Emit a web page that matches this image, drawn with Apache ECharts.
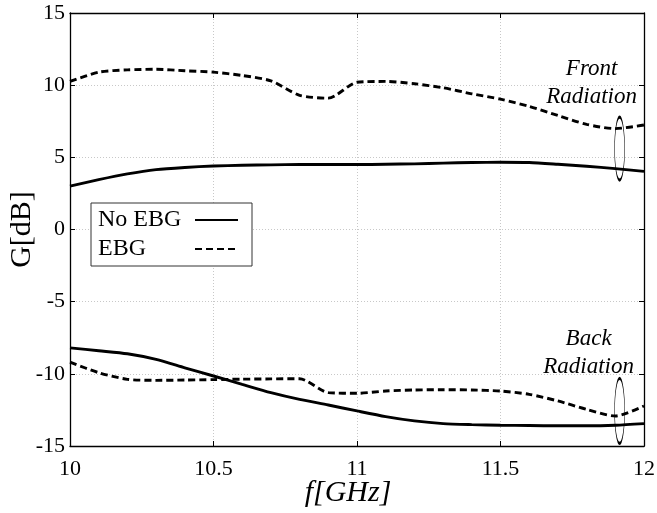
<!DOCTYPE html>
<html>
<head>
<meta charset="utf-8">
<script src="https://cdn.jsdelivr.net/npm/echarts@6/dist/echarts.min.js"></script>
<style>
  html, body { margin: 0; padding: 0; background: #fff; }
  #chart { width: 657px; height: 513px; }
</style>
</head>
<body>
<div id="chart"></div>
<script>
// frequency samples (GHz)
var freq = [10, 10.1, 10.2, 10.3, 10.4, 10.5, 10.6, 10.7, 10.8, 10.9, 11,
            11.1, 11.2, 11.3, 11.4, 11.5, 11.6, 11.7, 11.8, 11.9, 12];

// gain in dB
var frontNoEbg = [3.0, 3.45, 3.85, 4.15, 4.3, 4.4, 4.45, 4.48, 4.5, 4.5, 4.5,
                  4.52, 4.55, 4.6, 4.64, 4.66, 4.64, 4.52, 4.38, 4.22, 4.03];
var frontEbg = [10.26, 10.9, 11.06, 11.1, 11.0, 10.9, 10.67, 10.3, 9.3, 9.1, 10.2,
                10.26, 10.1, 9.82, 9.4, 9.03, 8.53, 7.9, 7.28, 6.99, 7.24];
var backNoEbg = [-8.2, -8.4, -8.61, -9.0, -9.58, -10.15, -10.73, -11.3, -11.77, -12.16, -12.57,
                 -12.96, -13.26, -13.45, -13.52, -13.56, -13.58, -13.6, -13.6, -13.56, -13.45];
var backEbg = [-9.19, -9.92, -10.38, -10.45, -10.43, -10.4, -10.37, -10.35, -10.34, -11.3, -11.35,
               -11.19, -11.12, -11.1, -11.12, -11.19, -11.42, -11.88, -12.46, -12.92, -12.23];

var xTicks = [10, 10.5, 11, 11.5, 12];
var yTicks = [-15, -10, -5, 0, 5, 10, 15];

// annotation ellipses: [x, y]
var frontMark = [11.915, 5.6];
var backMark = [11.915, -12.57];

var font = 'Liberation Serif';

function pairs(ys) {
    return freq.map(function (f, i) { return [f, ys[i]]; });
}

function ellipse(coord, h, txt, off) {
    return {
        silent: true,
        symbol: 'circle',
        symbolSize: [10, h],
        itemStyle: { color: 'rgba(0,0,0,0)', borderColor: '#000', borderWidth: 1.3 },
        label: {
            show: true, position: 'top', distance: 5, offset: off,
            formatter: txt, color: '#000', fontFamily: font, fontStyle: 'italic',
            fontSize: 23, lineHeight: 28, align: 'center'
        },
        data: [{ coord: coord }]
    };
}

var chart = echarts.init(document.getElementById('chart'));

var axisCommon = {
    type: 'value',
    axisLine: { show: true, onZero: false, lineStyle: { color: '#000', width: 1.3 } },
    axisTick: { show: true, inside: true, length: 5, lineStyle: { color: '#000' } }
};

var option = {
    animation: false,
    backgroundColor: '#fff',
    grid: { left: 70, right: 13, top: 13, bottom: 67, outerBoundsMode: 'none' },
    legend: {
        data: ['No EBG', 'EBG'],
        orient: 'vertical',
        left: 91, top: 203,
        align: 'right',
        backgroundColor: '#fff',
        borderColor: '#333', borderWidth: 1,
        padding: [5, 13, 5, 7],
        itemWidth: 43, itemHeight: 14, itemGap: 5,
        itemStyle: { color: 'rgba(0,0,0,0)', borderColor: 'rgba(0,0,0,0)', borderWidth: 0 },
        formatter: function (name) { return '{t|' + name + '}'; },
        textStyle: {
            fontFamily: font, fontSize: 24, color: '#000',
            rich: { t: { width: 92, align: 'left', fontFamily: font, fontSize: 24, color: '#000' } }
        }
    },
    xAxis: [
        Object.assign({}, axisCommon, {
            min: 10, max: 12, interval: 0.5,
            name: 'f[GHz]', nameLocation: 'middle', nameGap: 32, nameMoveOverlap: false,
            nameTextStyle: {
                fontFamily: font, fontStyle: 'italic', fontSize: 30, color: '#000',
                padding: [0, 18, 0, 0]
            },
            axisLabel: {
                fontFamily: font, fontSize: 22, color: '#000', margin: 12,
                customValues: xTicks
            },
            splitLine: { show: true, lineStyle: { color: '#c8c8c8', type: [1, 2], width: 1 } }
        }),
        Object.assign({}, axisCommon, {
            position: 'top', min: 10, max: 12, interval: 0.5,
            axisLabel: { show: false }, splitLine: { show: false }
        })
    ],
    yAxis: [
        Object.assign({}, axisCommon, {
            min: -15, max: 15, interval: 5,
            name: 'G[dB]', nameLocation: 'middle', nameGap: 33, nameMoveOverlap: false,
            nameTextStyle: { fontFamily: font, fontSize: 30, color: '#000' },
            axisLabel: {
                fontFamily: font, fontSize: 22, color: '#000', margin: 5,
                customValues: yTicks
            },
            splitLine: { show: true, lineStyle: { color: '#c8c8c8', type: [1, 2], width: 1 } }
        }),
        Object.assign({}, axisCommon, {
            position: 'right', min: -15, max: 15, interval: 5,
            axisLabel: { show: false }, splitLine: { show: false }
        })
    ],
    series: [
        {
            name: 'No EBG', type: 'line', symbol: 'none', smooth: 0.25,
            data: pairs(frontNoEbg),
            lineStyle: { color: '#000', width: 2.9 },
            itemStyle: { color: '#000' },
            markPoint: ellipse(frontMark, 63, 'Front\nRadiation', [-28, 0])
        },
        {
            name: 'EBG', type: 'line', symbol: 'none', smooth: 0.25,
            data: pairs(frontEbg),
            lineStyle: { color: '#000', width: 2.9, type: [7, 4] },
            itemStyle: { color: '#000' }
        },
        {
            name: 'No EBG', type: 'line', symbol: 'none', smooth: 0.25,
            data: pairs(backNoEbg),
            lineStyle: { color: '#000', width: 2.9 },
            itemStyle: { color: '#000' },
            markPoint: ellipse(backMark, 65, 'Back\nRadiation', [-31, 9])
        },
        {
            name: 'EBG', type: 'line', symbol: 'none', smooth: 0.25,
            data: pairs(backEbg),
            lineStyle: { color: '#000', width: 2.9, type: [7, 4] },
            itemStyle: { color: '#000' }
        }
    ]
};

chart.setOption(option);
</script>
</body>
</html>
